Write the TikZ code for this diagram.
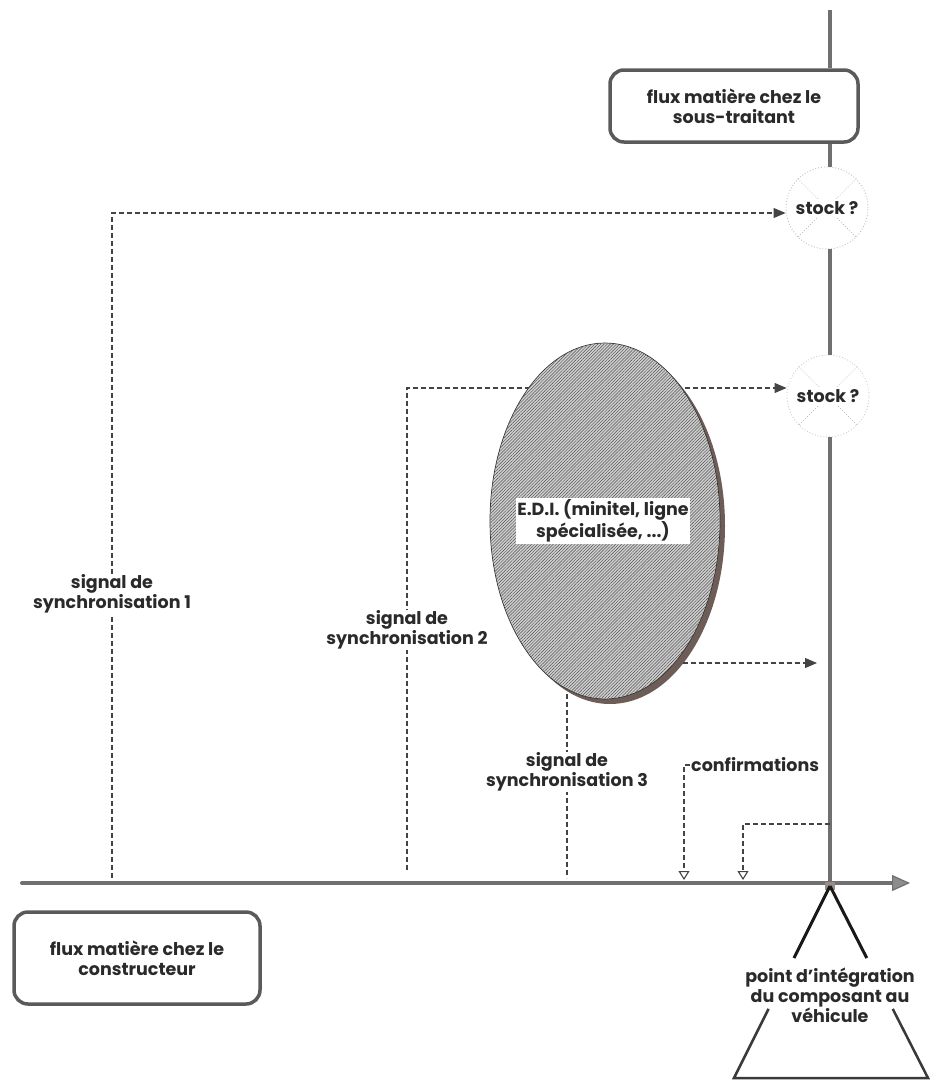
\documentclass[tikz,border=0pt]{standalone}
\usepackage{fontspec}
\setmainfont{Poppins}
\usetikzlibrary{arrows.meta,calc,patterns.meta,shapes.geometric}
\definecolor{mainline}{HTML}{707070}
\definecolor{boxline}{HTML}{5A5A5A}
\definecolor{dashc}{HTML}{444444}
\definecolor{shadowc}{HTML}{6E5C56}
\definecolor{txt}{HTML}{2A2A2A}
\tikzset{
  lbl/.style={font=\fontsize{17.5}{20}\selectfont\bfseries, text=txt, align=center, inner sep=1pt},
  flowbox/.style={draw=boxline, line width=3.5pt, rounded corners=14pt, fill=white, lbl},
  mainflow/.style={draw=mainline, line width=4pt},
  sig/.style={draw=dashc, line width=1.1pt, dash pattern=on 5pt off 3pt},
  sigarrow/.style={sig, -{Triangle[length=12pt,width=10pt]}},
  confarrow/.style={sig, -{Triangle[open,length=9pt,width=11pt,line width=1.1pt]}},
  stockc/.style={circle, minimum size=82pt, draw=gray!50, line width=0.9pt, dotted},
  whitelbl/.style={lbl, fill=white}
}
\begin{document}
\begin{tikzpicture}[x=1pt,y=-1pt]
\useasboundingbox (0,0) rectangle (935,1082);

% coordinates of the main flows
\coordinate (vtop) at (830,10);
\coordinate (hstart) at (22,883);
\coordinate (hend) at (910,883);
\coordinate (cross) at (830,883);

% boxes
\node[flowbox, minimum width=248pt, minimum height=72pt] (topbox) at (734,106) {flux matière chez le\\sous-traitant};
\node[flowbox, minimum width=246pt, minimum height=92pt] (botbox) at (137,958) {flux matière chez le\\constructeur};

% stock circles
\node[stockc] (stock1) at (827,208) {};
\node[stockc, draw=gray!40] (stock2) at (828,396) {};
\foreach \s in {stock1,stock2}{
  \draw[gray!50, line width=0.8pt, dotted] (\s.north east) -- (\s.south west);
  \draw[gray!50, line width=0.8pt, dotted] (\s.north west) -- (\s.south east);
}
\node[whitelbl, inner sep=2pt] (st1) at (stock1) {stock ?};
\node[whitelbl, inner sep=2pt] (st2) at (stock2) {stock ?};

% vertical flow
\draw[mainflow] (vtop) -- (topbox.north -| vtop);
\draw[mainflow] (topbox.south -| vtop) -- (stock1.north -| vtop);
\draw[mainflow] (stock1.south -| vtop) -- (stock2.north -| vtop);
\draw[mainflow] (stock2.south -| vtop) -- (cross);

% signals 1 and 2 (drawn before the ellipse)
\coordinate (s1b) at (112,878);
\coordinate (s1c) at (112,213);
\coordinate (s2b) at (407,870);
\coordinate (s2c) at (407,388);
\draw[sigarrow] (s1b) -- (s1c) -- (s1c -| stock1.west);
\draw[sigarrow] (s2b) -- (s2c) -- (s2c -| stock2.west);

% EDI ellipse with shadow
\fill[shadowc] (610,526) ellipse [x radius=115, y radius=178];
\node[ellipse, minimum width=230pt, minimum height=356pt, draw=gray!40!black, line width=0.7pt, fill=gray!38] (edi) at (605,521) {};
\fill[pattern={Lines[angle=45,distance=2.2pt,line width=0.45pt]}, pattern color=gray!60!black] (605,521) ellipse [x radius=114.5, y radius=177.5];
\node[whitelbl, inner sep=1.5pt] (edilbl) at (603,521) {E.D.I. (minitel, ligne\\spécialisée, ...)};

% signal labels
\node[whitelbl] (l1) at (112,594) {signal de\\synchronisation 1};
\node[whitelbl] (l2) at (407,630) {signal de\\synchronisation 2};

% signal 3
\coordinate (s3t) at (567,694);
\coordinate (s3b) at (567,878);
\draw[sig] (s3t) -- (s3b);
\node[whitelbl] (l3) at (567,772) {signal de\\synchronisation 3};

% EDI output arrow
\coordinate (edos) at (683,663);
\coordinate (edo) at (817,663);
\draw[sigarrow] (edos) -- (edo);

% confirmations
\node[lbl, anchor=west] (conf) at (690,765) {confirmations};
\coordinate (c1) at (684,880);
\coordinate (c2) at (743,880);
\coordinate (c2t) at (743,824);
\draw[confarrow] (conf.west) -| (c1);
\draw[confarrow] (c2t -| vtop) -- (c2t) -- (c2);

% horizontal flow
\draw[mainflow, line cap=round, -{Triangle[length=18pt,width=16pt,fill=mainline!80, line width=1.2pt]}] (hstart) -- (hend);

% integration point
\node[fill=shadowc!70!white, minimum width=10pt, minimum height=8pt, inner sep=0pt] (ip) at (830,886) {};
\coordinate (apex) at (830,886);
\coordinate (bl) at (734,1078);
\coordinate (br) at (928,1078);
\draw[draw=gray!20!black, line width=3pt] (apex) -- ($(apex)!0.375!(bl)$);
\draw[draw=gray!20!black, line width=3pt] (apex) -- ($(apex)!0.375!(br)$);
\draw[draw=gray!45!black, line width=2.5pt, line join=miter] ($(apex)!0.64!(bl)$) -- (bl) -- (br) -- ($(apex)!0.64!(br)$);
\node[lbl] (iplbl) at (830,995) {point d'intégration\\du composant au\\véhicule};
\end{tikzpicture}
\end{document}
